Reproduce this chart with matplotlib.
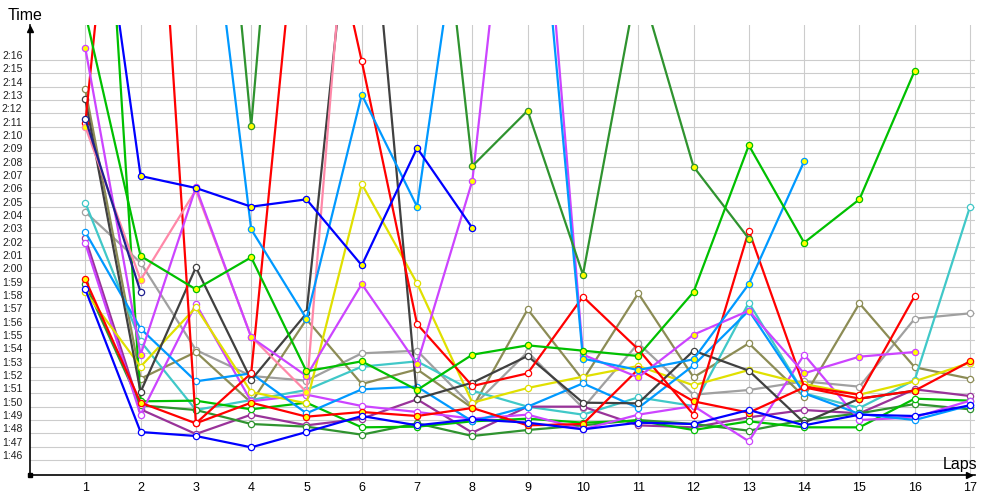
import numpy as np
import matplotlib.pyplot as plt
from matplotlib.transforms import ScaledTranslation

plt.rcParams['font.family'] = ['Liberation Sans', 'DejaVu Sans']

laps = list(range(1, 18))

# lap times in seconds (values above 2:18 run off the top of the chart)
blue = [118.8, 108.1, 107.8, 106.95, 108.1, 109.3, 108.6, 109.05, 108.8, 108.3, 108.8, 108.7, 109.75, 108.6, 109.4, 109.3, 110.1]
navy = [131.6, 118.6]
blue2 = [157.0, 127.3, 126.4, 125.0, 125.55, 120.6, 129.4, 123.4]
red_a = [131.25, 172.5, 108.75, 112.5, 154.6, 135.9, 116.2, 111.55, 112.5, 118.25, 114.3, 109.4, 123.2, 111.5, 110.9, 118.3]
red_b = [119.55, 110.3, 108.75, 110.3, 109.25, 109.6, 109.3, 109.9, 108.6, 108.7, 112.8, 110.4, 109.55, 111.45, 110.6, 111.2, 113.4]
green_a = [139.5, 121.3, 118.8, 121.2, 112.65, 113.4, 111.25, 113.9, 114.6, 114.2, 113.8, 118.6, 129.6, 122.3, 125.55, 135.2]
green_b = [176.0, 110.4, 110.45, 109.8, 110.3, 108.45, 108.5, 108.9, 109.1, 108.8, 108.95, 108.25, 108.9, 108.45, 108.45, 110.6, 110.45]
dkgreen_a = [119.2, 110.1, 109.75, 108.7, 108.5, 107.9, 108.75, 107.8, 108.25, 108.6, 109.0, 108.7, 108.2, 109.0, 109.5, 110.2, 109.8]
dkgreen_b = [150.0, 148.0, 174.55, 131.03, 178.9, 170.0, 165.3, 128.05, 132.2, 119.9, 142.2, 128.0, 122.6]
dblue_a = [123.1, 115.85, 111.9, 112.5, 109.5, 111.3, 111.5, 108.9, 110.0, 111.75, 109.9, 113.1, 117.2, 111.0, 109.45, 109.0, 110.1]
dblue_b = [150.0, 155.0, 157.3, 123.3, 116.6, 133.4, 125.0, 153.7, 159.4, 113.6, 112.75, 113.55, 119.2, 128.4]
black = [133.05, 111.1, 120.45, 112.0, 117.0, 156.5, 110.6, 111.8, 113.8, 110.3, 110.25, 114.2, 112.7, 108.8, 110.6, 111.2]
gray = [124.6, 120.8, 114.25, 112.3, 111.95, 114.0, 114.2, 110.0, 114.1, 109.9, 114.75, 110.9, 111.25, 111.9, 111.5, 116.6, 117.0]
olive = [133.8, 112.1, 114.1, 110.3, 116.55, 111.7, 112.8, 109.9, 117.3, 112.0, 118.5, 112.2, 114.75, 110.75, 117.75, 112.95, 112.1]
yellow = [118.6, 113.0, 117.45, 111.1, 110.25, 126.7, 119.25, 110.3, 111.4, 112.25, 113.05, 111.6, 112.75, 111.7, 110.9, 111.9, 113.3]
pink = [131.0, 119.5, 126.25, 115.25, 111.1, 162.0]
violet_a = [136.9, 113.9, 126.45, 115.2, 112.3, 119.2, 113.2, 126.95, 164.4, 113.9, 112.2, 115.4, 117.2, 112.5, 113.75, 114.1]
violet_b = [122.25, 109.4, 117.7, 110.4, 110.9, 110.05, 109.6, 109.1, 109.4, 108.3, 109.4, 110.05, 107.4, 113.9, 109.0, 109.2, 110.45]
cyan = [125.3, 114.9, 109.75, 110.5, 111.25, 113.0, 113.4, 111.2, 110.0, 109.4, 110.7, 110.05, 117.8, 111.0, 109.9, 112.0, 125.0]
purple = [122.65, 109.8, 107.95, 109.4, 108.6, 109.1, 110.55, 108.05, 110.0, 110.0, 108.6, 108.45, 109.2, 109.75, 109.5, 111.3, 110.8]

series = [
    (gray, '#a0a0a0', 'white'),
    (olive, '#8c8c55', 'white'),
    (cyan, '#40c8c8', 'white'),
    (purple, '#993399', 'white'),
    (dkgreen_a, '#2f932f', 'white'),
    (green_b, '#00c000', 'white'),
    (violet_b, '#cc44ff', 'white'),
    (yellow, '#e0e000', 'white'),
    (dblue_a, '#0099ff', 'white'),
    (black, '#404040', 'white'),
    (red_b, '#ff0000', '#ffff00'),
    (blue, '#0000ff', 'white'),
    (red_a, '#ff0000', 'white'),
    (pink, '#ff88a8', '#ffff00'),
    (violet_a, '#cc44ff', '#ffff00'),
    (dblue_b, '#0099ff', '#ffff00'),
    (dkgreen_b, '#2f932f', '#ffff00'),
    (green_a, '#00c000', '#ffff00'),
    (navy, '#202090', 'white'),
    (blue2, '#0000ff', '#ffff00'),
]

fig = plt.figure(figsize=(10, 5), dpi=100)
ax = fig.add_axes([0.03, 0.05, 0.945, 0.90])

for vals, col, face in series:
    ax.plot(laps[:len(vals)], vals, '-o', color=col, lw=1.6, ms=4.5,
            mfc=face, mec=col, mew=0.9)

ymin, ymax = 104.875, 138.625
ax.set_xlim(0, 17.09)
ax.set_ylim(ymin, ymax)

yt = list(range(106, 137))
ax.set_yticks(yt)
ax.set_yticklabels(['%d:%02d' % (t // 60, t % 60) for t in yt])
ax.set_xticks(laps)
ax.grid(color='#cccccc', lw=0.8)
ax.set_axisbelow(True)

ax.tick_params(axis='y', length=0, pad=5.5, labelsize=7.5, labelcolor='#202020')
ax.tick_params(axis='x', length=0, pad=5, labelsize=9)
for lbl in ax.get_yticklabels():
    lbl.set_transform(lbl.get_transform() + ScaledTranslation(0, 0.05, fig.dpi_scale_trans))

for s in ['top', 'right']:
    ax.spines[s].set_visible(False)
for s in ['left', 'bottom']:
    ax.spines[s].set_color('black')
    ax.spines[s].set_linewidth(1.2)

ax.plot([0], [ymax - 0.3], marker='^', color='black', ms=5, clip_on=False, zorder=5)
ax.plot([16.98], [ymin], marker='>', color='black', ms=5, clip_on=False, zorder=5)
ax.plot([0], [ymin], marker='s', color='black', ms=2.5, clip_on=False, zorder=5)

fig.text(0.008, 0.97, 'Time', fontsize=11.5, va='center', ha='left')
fig.text(0.943, 0.072, 'Laps', fontsize=11.5, va='center', ha='left')

fig.savefig('out.png', dpi=100)
